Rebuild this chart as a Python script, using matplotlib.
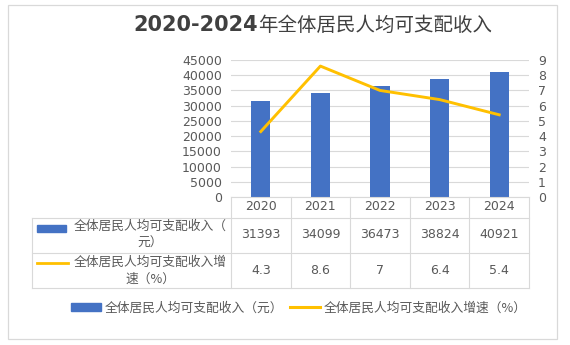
import numpy as np
import matplotlib.pyplot as plt
from matplotlib.lines import Line2D
from matplotlib.patches import Rectangle
import matplotlib.transforms as mtransforms

plt.rcParams['font.family'] = ['DejaVu Sans', 'Noto Sans CJK SC']
CJK = ['Noto Sans CJK SC', 'DejaVu Sans']

years = ['2020', '2021', '2022', '2023', '2024']
income = [31393, 34099, 36473, 38824, 40921]
growth = [4.3, 8.6, 7, 6.4, 5.4]
income_label = '全体居民人均可支配收入（元）'
growth_label = '全体居民人均可支配收入增速（%）'
income_row_label = ['全体居民人均可支配收入（', '元）']
growth_row_label = ['全体居民人均可支配收入增', '速（%）']
title_years = '2020-2024'
title_text = '年全体居民人均可支配收入'

W, H = 570, 345
BLUE = '#4472C4'
GOLD = '#FFC000'
GRID = '#D9D9D9'
TXT = '#595959'


def fx(x):
    return x / W


def fy(y):
    return 1 - y / H


fig = plt.figure(figsize=(5.7, 3.45), dpi=100)
fig.patch.set_facecolor('white')

# outer chart border
fig.add_artist(Rectangle((fx(8), fy(339)), fx(557) - fx(8), fy(5) - fy(339),
                         transform=fig.transFigure, fill=False, edgecolor=GRID, lw=0.9))

# title: bold latin digits, regular chinese
fig.text(fx(258), fy(25), title_years, ha='right', va='center', fontsize=15,
         fontweight='bold', color='#404040', family='DejaVu Sans')
fig.text(fx(258), fy(25), title_text, ha='left', va='center', fontsize=14,
         color='#404040', family=CJK)

left, right, top, bottom = 231, 529, 60, 197
ax = fig.add_axes([fx(left), fy(bottom), fx(right) - fx(left), fy(top) - fy(bottom)])
x = np.arange(len(years))
ax.bar(x, income, width=0.32, color=BLUE, zorder=3)
ax.set_xlim(-0.5, len(years) - 0.5)
ax.set_ylim(0, 45000)
ax.set_yticks(np.arange(0, 45001, 5000))
ax.yaxis.grid(True, color=GRID, lw=0.8, zorder=0)
ax.set_xticks([])
ax.patch.set_alpha(0)
for s in ax.spines.values():
    s.set_visible(False)
ax.tick_params(axis='y', length=0, labelsize=9, labelcolor=TXT, pad=6.5)

ax2 = ax.twinx()
ax2.plot(x, growth, color=GOLD, lw=2.1, zorder=4)
ax2.set_ylim(0, 9)
ax2.set_yticks(np.arange(0, 10, 1))
for s in ax2.spines.values():
    s.set_visible(False)
ax2.tick_params(axis='y', length=0, labelsize=9, labelcolor=TXT, pad=6.5)

# data table under the plot
trans = mtransforms.blended_transform_factory(ax.transData, fig.transFigure)
edges = np.arange(len(years) + 1) - 0.5
tab_left = 32
for yy in [218, 253, 288]:
    fig.add_artist(Line2D([fx(tab_left), fx(right)], [fy(yy), fy(yy)],
                          transform=fig.transFigure, color=GRID, lw=0.8))
fig.add_artist(Line2D([fx(left), fx(right)], [fy(197), fy(197)],
                      transform=fig.transFigure, color=GRID, lw=0.8))
fig.add_artist(Line2D([fx(tab_left), fx(tab_left)], [fy(218), fy(288)],
                      transform=fig.transFigure, color=GRID, lw=0.8))
for e in edges:
    fig.add_artist(Line2D([e, e], [fy(197), fy(288)], transform=trans,
                          color=GRID, lw=0.8, clip_on=False))

for i in range(len(years)):
    fig.text(x[i], fy(207), years[i], transform=trans, ha='center', va='center',
             fontsize=9, color=TXT)
    fig.text(x[i], fy(235), str(income[i]), transform=trans, ha='center', va='center',
             fontsize=9, color=TXT)
    fig.text(x[i], fy(270.5), f'{growth[i]:g}', transform=trans, ha='center', va='center',
             fontsize=9, color=TXT)

# legend keys and row labels in the table
fig.add_artist(Rectangle((fx(37), fy(232)), fx(66) - fx(37), fy(225) - fy(232),
                         transform=fig.transFigure, color=BLUE))
fig.add_artist(Line2D([fx(37), fx(68)], [fy(262.5), fy(262.5)],
                      transform=fig.transFigure, color=GOLD, lw=2))
for lines, y1, y2 in [(income_row_label, 226.5, 243), (growth_row_label, 262, 279)]:
    fig.text(fx(150), fy(y1), lines[0], ha='center', va='center',
             fontsize=9.2, color=TXT, family=CJK)
    fig.text(fx(150), fy(y2), lines[1], ha='center', va='center',
             fontsize=9.2, color=TXT, family=CJK)

handles = [Rectangle((0, 0), 1, 1, color=BLUE),
           Line2D([0], [0], color=GOLD, lw=2.2)]
fig.legend(handles, [income_label, growth_label], loc='center',
           bbox_to_anchor=(fx(299), fy(308)), ncol=2, frameon=False,
           prop={'family': CJK, 'size': 9.2}, labelcolor=TXT,
           handlelength=2.35, handleheight=0.55, handletextpad=0.3,
           columnspacing=0.55, borderpad=0, borderaxespad=0)

fig.savefig('out.png', dpi=100)
